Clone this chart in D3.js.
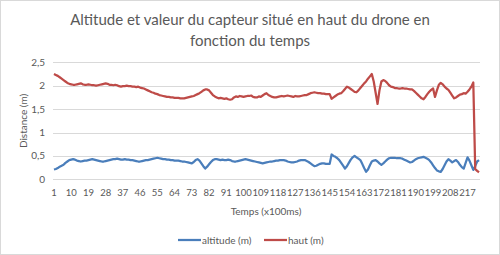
<!DOCTYPE html>
<html>
<head>
<meta charset="utf-8">
<script src="https://cdn.jsdelivr.net/npm/d3@7"></script>
<style>
  body { margin: 0; background: #fff; }
  text { font-family: Lato, "Open Sans", sans-serif; fill: #595959; }
</style>
</head>
<body>
<svg id="chart" width="500" height="255"></svg>
<script>
// valeurs
let haut = [
  2.25, 2.23, 2.21, 2.18, 2.15, 2.12, 2.09, 2.06, 2.04, 2.03,
  2.02, 2.02, 2.03, 2.04, 2.05, 2.03, 2.02, 2.02, 2.03, 2.02,
  2.01, 2.01, 2.00, 2.01, 2.02, 2.03, 2.04, 2.05, 2.04, 2.02,
  2.02, 2.01, 2.02, 2.01, 1.99, 1.98, 1.99, 1.99, 2.00, 1.99,
  1.99, 1.98, 1.98, 1.97, 1.98, 1.96, 1.95, 1.94, 1.92, 1.90,
  1.88, 1.86, 1.85, 1.83, 1.82, 1.80, 1.79, 1.78, 1.77, 1.76,
  1.76, 1.75, 1.75, 1.74, 1.74, 1.74, 1.73, 1.73, 1.73, 1.74,
  1.75, 1.76, 1.77, 1.78, 1.80, 1.82, 1.84, 1.87, 1.90, 1.92,
  1.92, 1.90, 1.85, 1.80, 1.77, 1.75, 1.73, 1.74, 1.73, 1.72,
  1.73, 1.71, 1.70, 1.71, 1.75, 1.77, 1.76, 1.78, 1.77, 1.76,
  1.77, 1.78, 1.78, 1.79, 1.76, 1.75, 1.75, 1.77, 1.76, 1.79,
  1.82, 1.84, 1.80, 1.78, 1.76, 1.75, 1.75, 1.76, 1.77, 1.78,
  1.77, 1.78, 1.79, 1.78, 1.77, 1.76, 1.78, 1.77, 1.77, 1.78,
  1.79, 1.80, 1.80, 1.82, 1.84, 1.85, 1.86, 1.85, 1.84, 1.84,
  1.83, 1.83, 1.82, 1.82, 1.82, 1.72, 1.75, 1.78, 1.81, 1.83,
  1.84, 1.88, 1.93, 1.98, 1.96, 1.93, 1.90, 1.87, 1.86, 1.90,
  1.95, 2.00, 2.05, 2.09, 2.15, 2.20, 2.25, 2.09, 1.85, 1.61,
  1.90, 2.09, 2.12, 2.10, 2.06, 2.01, 1.98, 1.97, 1.95, 1.95,
  1.94, 1.94, 1.95, 1.94, 1.94, 1.93, 1.92, 1.92, 1.89, 1.85,
  1.81, 1.77, 1.73, 1.71, 1.76, 1.82, 1.87, 1.91, 1.94, 1.76,
  1.90, 2.02, 2.06, 2.03, 1.98, 1.94, 1.91, 1.85, 1.79, 1.73,
  1.75, 1.78, 1.81, 1.82, 1.84, 1.83, 1.87, 1.92, 1.98, 2.07,
  0.22, 0.18, 0.15
];
let altitude = [
  0.21, 0.22, 0.24, 0.27, 0.29, 0.31, 0.35, 0.38, 0.41, 0.42,
  0.43, 0.42, 0.40, 0.39, 0.38, 0.39, 0.40, 0.40, 0.41, 0.42,
  0.43, 0.42, 0.41, 0.40, 0.39, 0.38, 0.38, 0.39, 0.40, 0.41,
  0.42, 0.43, 0.43, 0.44, 0.43, 0.42, 0.42, 0.43, 0.42, 0.42,
  0.41, 0.41, 0.40, 0.39, 0.38, 0.38, 0.39, 0.40, 0.41, 0.41,
  0.42, 0.43, 0.44, 0.45, 0.46, 0.45, 0.44, 0.43, 0.43, 0.42,
  0.42, 0.41, 0.41, 0.40, 0.40, 0.40, 0.39, 0.38, 0.38, 0.37,
  0.36, 0.35, 0.34, 0.37, 0.41, 0.43, 0.40, 0.34, 0.28, 0.23,
  0.27, 0.32, 0.37, 0.41, 0.43, 0.43, 0.42, 0.41, 0.42, 0.41,
  0.41, 0.42, 0.41, 0.39, 0.38, 0.38, 0.39, 0.40, 0.41, 0.42,
  0.43, 0.42, 0.41, 0.40, 0.39, 0.38, 0.37, 0.36, 0.35, 0.34,
  0.35, 0.36, 0.37, 0.38, 0.38, 0.39, 0.40, 0.40, 0.41, 0.41,
  0.41, 0.40, 0.38, 0.37, 0.36, 0.36, 0.37, 0.38, 0.40, 0.41,
  0.41, 0.41, 0.39, 0.37, 0.34, 0.31, 0.28, 0.29, 0.31, 0.33,
  0.34, 0.34, 0.33, 0.33, 0.33, 0.53, 0.50, 0.48, 0.45, 0.41,
  0.35, 0.29, 0.23, 0.28, 0.35, 0.42, 0.47, 0.50, 0.47, 0.44,
  0.41, 0.33, 0.24, 0.16, 0.21, 0.30, 0.38, 0.40, 0.41, 0.38,
  0.34, 0.31, 0.34, 0.38, 0.42, 0.45, 0.46, 0.46, 0.46, 0.45,
  0.45, 0.45, 0.44, 0.42, 0.40, 0.38, 0.36, 0.37, 0.40, 0.43,
  0.45, 0.46, 0.47, 0.48, 0.46, 0.44, 0.41, 0.36, 0.30, 0.24,
  0.19, 0.17, 0.16, 0.22, 0.30, 0.38, 0.43, 0.40, 0.36, 0.39,
  0.41, 0.37, 0.31, 0.26, 0.23, 0.35, 0.47, 0.40, 0.30, 0.20,
  0.28, 0.38, 0.41
];
let temps = d3.range(1, haut.length + 1);
let yTicks = [0, 0.5, 1, 1.5, 2, 2.5];
let xLabels = temps.filter(t => (t - 1) % 9 === 0);
let series = [
  {name: "altitude (m)", values: altitude, color: "#4a7ebb"},
  {name: "haut (m)", values: haut, color: "#be4b48"}
];

let svg = d3.select("#chart");

svg.append("rect")
  .attr("x", 0.5).attr("y", 0.5)
  .attr("width", 499).attr("height", 254)
  .attr("fill", "#fff").attr("stroke", "#d9d9d9");

let x = d3.scalePoint().domain(temps).range([53, 480]).padding(0.5);
let y = d3.scaleLinear().domain([0, 2.5]).range([179.3, 62.3]);

// grille
svg.append("g").selectAll("line")
  .data(yTicks)
  .enter().append("line")
  .attr("x1", 53).attr("x2", 480)
  .attr("y1", d => Math.round(y(d)) + 0.5)
  .attr("y2", d => Math.round(y(d)) + 0.5)
  .attr("stroke", "#d9d9d9");

let fmt = d => String(d).replace(".", ",");

svg.append("g").selectAll("text")
  .data(yTicks)
  .enter().append("text")
  .attr("x", 45).attr("y", d => y(d) + 3.5)
  .attr("text-anchor", "end")
  .style("font-size", "10px")
  .text(fmt);

svg.append("g").selectAll("text")
  .data(xLabels)
  .enter().append("text")
  .attr("x", d => x(d)).attr("y", 196)
  .attr("text-anchor", "middle")
  .style("font-size", "9.5px")
  .text(d => d);

// courbes
let line = d3.line()
  .x((d, i) => x(temps[i]))
  .y(d => y(d));

svg.append("g").selectAll("path")
  .data(series)
  .enter().append("path")
  .attr("d", d => line(d.values))
  .attr("fill", "none")
  .attr("stroke", d => d.color)
  .attr("stroke-width", 2.25)
  .attr("stroke-linejoin", "round");

// titres
svg.append("text")
  .attr("text-anchor", "middle")
  .style("font-size", "15px")
  .selectAll("tspan")
  .data(["Altitude et valeur du capteur situé en haut du drone en", "fonction du temps"])
  .enter().append("tspan")
  .attr("x", 250)
  .attr("y", (d, i) => 25 + i * 21)
  .text(d => d);

svg.append("text")
  .attr("transform", "translate(27,121) rotate(-90)")
  .attr("text-anchor", "middle")
  .style("font-size", "10px")
  .text("Distance (m)");

svg.append("text")
  .attr("x", 266).attr("y", 215)
  .attr("text-anchor", "middle")
  .style("font-size", "10px")
  .text("Temps (x100ms)");

// légende
let legend = svg.append("g").selectAll("g")
  .data(series)
  .enter().append("g")
  .attr("transform", (d, i) => "translate(" + [178, 264][i] + ",240)");

legend.append("line")
  .attr("x1", 0).attr("x2", 23)
  .attr("stroke", d => d.color)
  .attr("stroke-width", 2.25);

legend.append("text")
  .attr("x", 24).attr("y", 3.5)
  .style("font-size", "10px")
  .text(d => d.name);
</script>
</body>
</html>
